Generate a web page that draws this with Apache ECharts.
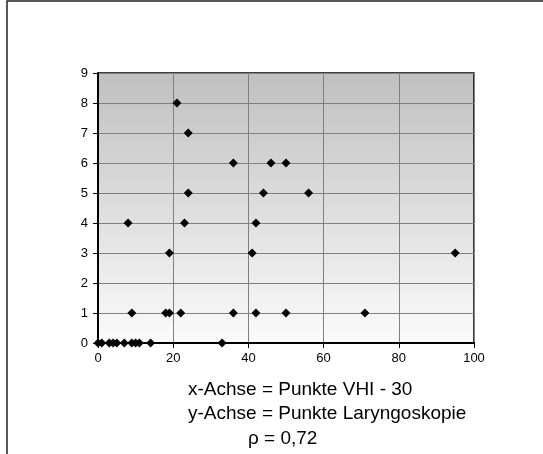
<!DOCTYPE html>
<html>
<head>
<meta charset="utf-8">
<script src="https://cdn.jsdelivr.net/npm/echarts@6/dist/echarts.min.js"></script>
<style>
html,body{margin:0;padding:0;background:#fff;}
#c{width:543px;height:454px;}
</style>
</head>
<body>
<div id="c"></div>
<script>
// VHI-30 score (x) vs laryngoscopy score (y)
const xValues = [0, 1, 3, 4, 5, 7, 9, 10, 11, 14, 33,
                 9, 18, 19, 22, 36, 42, 50, 71,
                 19, 41, 95,
                 8, 23, 42,
                 24, 44, 56,
                 36, 46, 50,
                 24,
                 21];
const yValues = [0, 0, 0, 0, 0, 0, 0, 0, 0, 0, 0,
                 1, 1, 1, 1, 1, 1, 1, 1,
                 3, 3, 3,
                 4, 4, 4,
                 5, 5, 5,
                 6, 6, 6,
                 7,
                 8];
const xTicks = [0, 20, 40, 60, 80, 100];
const yTicks = [0, 1, 2, 3, 4, 5, 6, 7, 8, 9];
const captionLines = ['x-Achse = Punkte VHI - 30', 'y-Achse = Punkte Laryngoskopie', 'ρ = 0,72'];

const points = xValues.map((x, i) => [x, yValues[i]]);
const font = '"Liberation Sans", Arial, sans-serif';

const chart = echarts.init(document.getElementById('c'), null, {renderer: 'canvas'});
chart.setOption({
  animation: false,
  backgroundColor: '#ffffff',
  grid: {
    left: 98, right: 69, top: 73, bottom: 111,
    show: true,
    borderColor: '#000', borderWidth: 1.5,
    backgroundColor: new echarts.graphic.LinearGradient(0, 0, 0, 1, [
      {offset: 0, color: '#c0c0c0'},
      {offset: 1, color: '#fbfbfb'}
    ])
  },
  xAxis: {
    type: 'value', min: xTicks[0], max: xTicks[xTicks.length - 1], interval: 20,
    axisLine: {show: true, onZero: false, lineStyle: {color: '#000', width: 2}},
    axisTick: {show: true, length: 5, inside: false, lineStyle: {color: '#000', width: 1}},
    axisLabel: {color: '#000', fontSize: 13, fontFamily: font, margin: 9},
    splitLine: {show: true, lineStyle: {color: '#808080', width: 1}}
  },
  yAxis: {
    type: 'value', min: yTicks[0], max: yTicks[yTicks.length - 1], interval: 1,
    axisLine: {show: true, onZero: false, lineStyle: {color: '#000', width: 2}},
    axisTick: {show: true, length: 5, inside: false, lineStyle: {color: '#000', width: 1}},
    axisLabel: {color: '#000', fontSize: 13, fontFamily: font, margin: 10},
    splitLine: {show: true, lineStyle: {color: '#808080', width: 1}}
  },
  series: [{
    type: 'scatter',
    data: points,
    symbol: 'diamond',
    symbolSize: 9,
    itemStyle: {color: '#000', opacity: 1}
  }],
  graphic: [
    {type: 'rect', shape: {x: 7, y: 1, width: 700, height: 600}, style: {fill: 'none', stroke: '#222', lineWidth: 1.5}, silent: true},
    {type: 'text', left: 188, top: 380, style: {text: captionLines[0], font: '19px ' + font, fill: '#000'}},
    {type: 'text', left: 188, top: 404, style: {text: captionLines[1], font: '19px ' + font, fill: '#000'}},
    {type: 'text', left: 248, top: 429, style: {text: captionLines[2], font: '19px ' + font, fill: '#000'}}
  ]
});
</script>
</body>
</html>
